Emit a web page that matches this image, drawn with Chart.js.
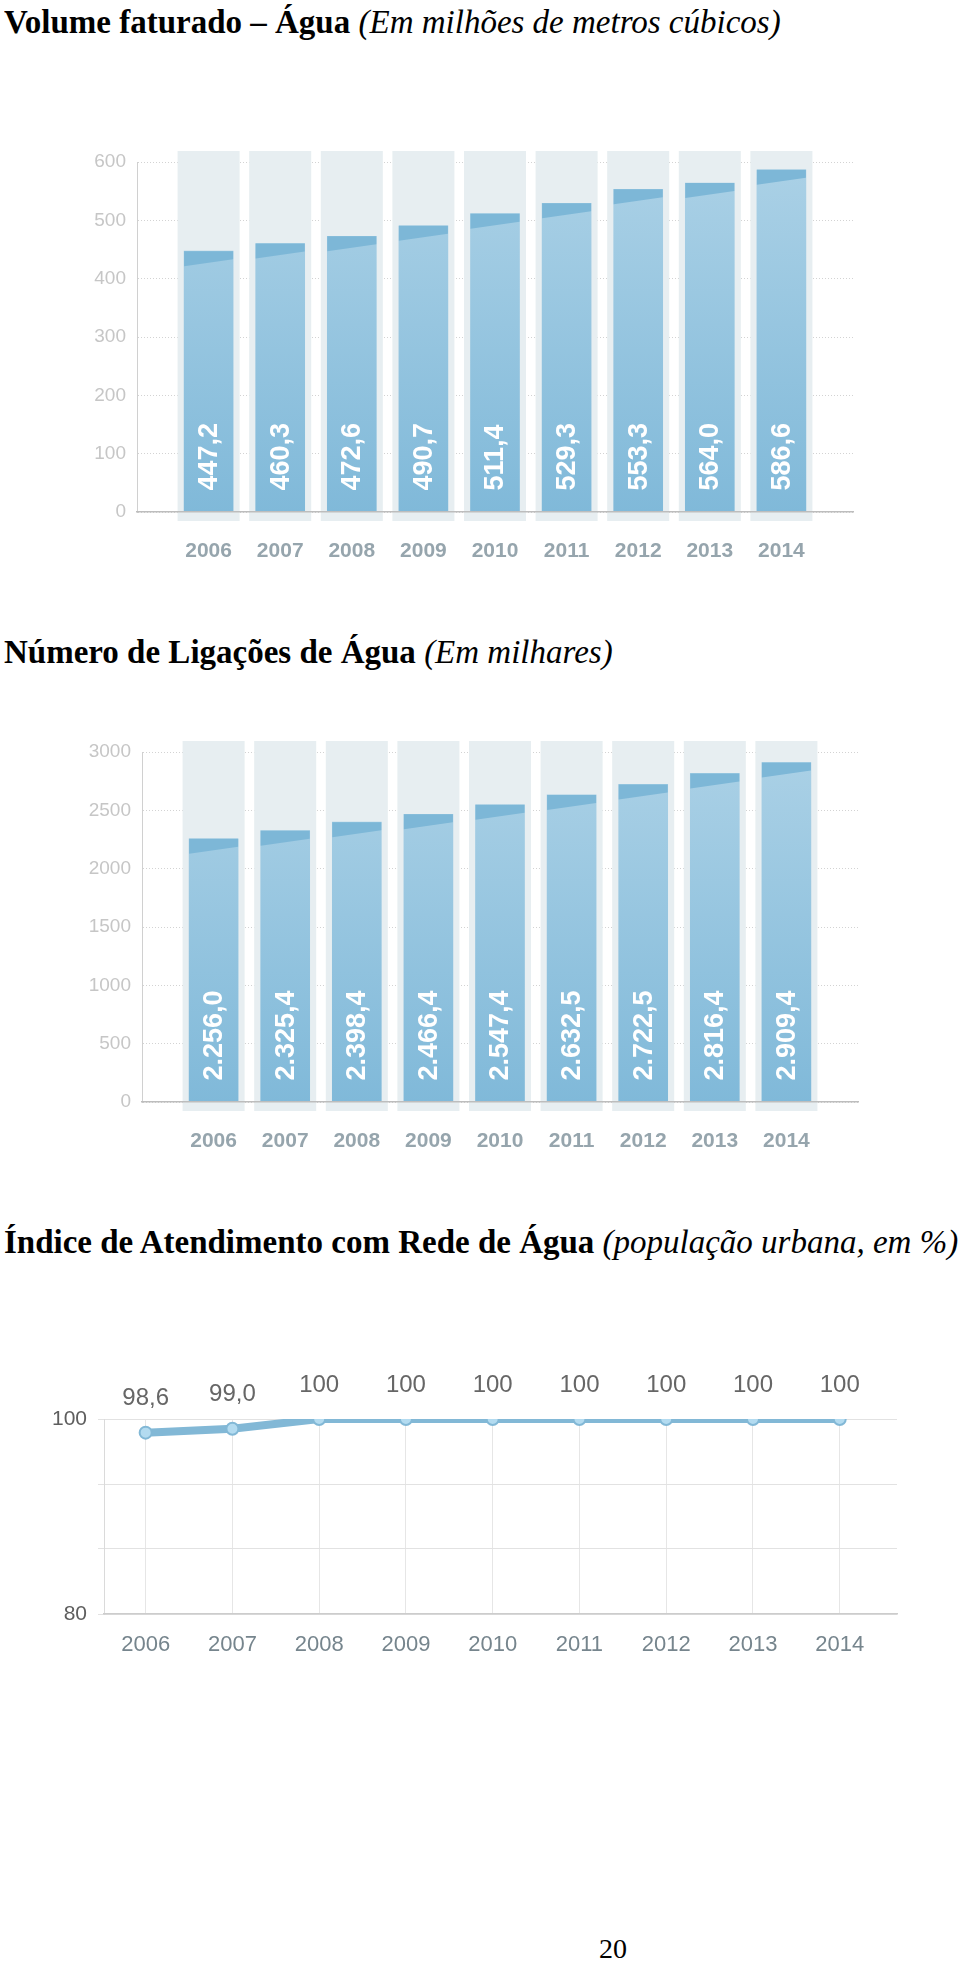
<!DOCTYPE html>
<html lang="pt-BR">
<head>
<meta charset="utf-8">
<title>Água – indicadores 2006-2014</title>
<script src="https://cdn.jsdelivr.net/npm/chart.js@4.4.1/dist/chart.umd.min.js"></script>
<style>
  html, body { margin: 0; padding: 0; background: #fff; }
  body { position: relative; width: 960px; height: 1964px; overflow: hidden; }
  .title { position: absolute; left: 4px; font-family: "Liberation Serif", "Times New Roman", serif; font-size: 33px; line-height: 34px; color: #000; white-space: nowrap; transform: scaleY(1.05); transform-origin: left bottom; }
  .title b { font-weight: bold; }
  .title i { font-style: italic; font-weight: normal; }
  canvas { position: absolute; left: 0; }
  .page { position: absolute; left: 599px; top: 1935px; font-family: "Liberation Serif", serif; font-size: 28px; line-height: 28px; }
</style>
</head>
<body>
<div class="title" style="top:5px"><b>Volume faturado – Água</b> <i>(Em milhões de metros cúbicos)</i></div>
<canvas id="volume" width="960" height="450" style="top:130px"></canvas>

<div class="title" style="top:635px"><b>Número de Ligações de Água</b> <i>(Em milhares)</i></div>
<canvas id="ligacoes" width="960" height="450" style="top:720px"></canvas>

<div class="title" style="top:1225px"><b>Índice de Atendimento com Rede de Água</b> <i>(população urbana, em %)</i></div>
<canvas id="indice" width="960" height="320" style="top:1360px"></canvas>

<div class="page">20</div>

<script>
"use strict";

// data
const years = [2006, 2007, 2008, 2009, 2010, 2011, 2012, 2013, 2014];
const volumeFaturado = [447.2, 460.3, 472.6, 490.7, 511.4, 529.3, 553.3, 564.0, 586.6];
const ligacoes = [2256.0, 2325.4, 2398.4, 2466.4, 2547.4, 2632.5, 2722.5, 2816.4, 2909.4];
const atendimento = [98.6, 99.0, 100, 100, 100, 100, 100, 100, 100];
const atendimentoTickLabels = ["80", "", "", "100"];

Chart.defaults.font.family = '"Liberation Sans", Arial, sans-serif';
Chart.defaults.animation = false;

// 2.256,0 style numbers
function fmtBR(v) {
  const parts = v.toFixed(1).split(".");
  return parts[0].replace(/\B(?=(\d{3})+(?!\d))/g, ".") + "," + parts[1];
}

// grey column behind every bar, the darker slanted cap and the rotated value
const barDecor = {
  id: "barDecor",
  beforeDatasetsDraw(chart) {
    const { ctx, chartArea } = chart;
    ctx.save();
    ctx.fillStyle = "#e7eef1";
    chart.getDatasetMeta(0).data.forEach(bar => {
      ctx.fillRect(bar.x - 31, chartArea.top - 11, 62, chartArea.bottom - chartArea.top + 20);
    });
    ctx.restore();
  },
  afterDatasetsDraw(chart) {
    const { ctx } = chart;
    const values = chart.data.datasets[0].data;
    chart.getDatasetMeta(0).data.forEach((bar, i) => {
      const half = bar.width / 2;
      ctx.save();
      ctx.fillStyle = "#7db7d7";
      ctx.beginPath();
      ctx.moveTo(bar.x - half, bar.y);
      ctx.lineTo(bar.x + half, bar.y);
      ctx.lineTo(bar.x + half, bar.y + 8);
      ctx.lineTo(bar.x - half, bar.y + 15);
      ctx.closePath();
      ctx.fill();

      ctx.translate(bar.x, bar.base - 21);
      ctx.rotate(-Math.PI / 2);
      ctx.font = 'bold 27px "Liberation Sans", Arial, sans-serif';
      ctx.fillStyle = "#ffffff";
      ctx.textAlign = "left";
      ctx.textBaseline = "middle";
      ctx.fillText(fmtBR(values[i]), 0, 1);
      ctx.restore();
    });
  }
};

function barGradient(c) {
  const { ctx, chartArea } = c.chart;
  if (!chartArea) return "#92c3de";
  const g = ctx.createLinearGradient(0, chartArea.top, 0, chartArea.bottom);
  g.addColorStop(0, "#abd1e6");
  g.addColorStop(1, "#80b9d9");
  return g;
}

function makeBarChart(id, values, yMax, yStep, yAxisWidth, rightPad) {
  return new Chart(document.getElementById(id), {
    type: "bar",
    data: {
      labels: years,
      datasets: [{
        data: values,
        backgroundColor: barGradient,
        barThickness: 49,
        borderWidth: 0
      }]
    },
    options: {
      responsive: false,
      devicePixelRatio: 1,
      layout: { padding: { left: 0, right: rightPad, top: 32, bottom: 18 } },
      plugins: { legend: { display: false }, tooltip: { enabled: false } },
      scales: {
        x: {
          type: "linear",
          offset: false,
          min: years[0] - 1,
          max: years[years.length - 1] + 1,
          afterBuildTicks: s => { s.ticks = years.map(v => ({ value: v })); },
          afterFit: s => { s.height = 50; },
          grid: { display: false },
          border: { color: "#bdbdbd", width: 1.5, z: 1 },
          ticks: {
            padding: 19,
            color: "#96a5ad",
            font: { size: 21, weight: "bold" },
            callback: v => String(v)
          }
        },
        y: {
          min: 0,
          max: yMax,
          afterFit: s => { s.width = yAxisWidth; },
          grid: { color: "#d3d3d3", drawTicks: false, lineWidth: 1 },
          border: { color: "#d0d0d0", width: 1, dash: [1, 2] },
          ticks: {
            stepSize: yStep,
            padding: 11,
            color: "#c6c6c6",
            font: { size: 19 },
            callback: v => String(v)
          }
        }
      }
    },
    plugins: [barDecor]
  });
}

makeBarChart("volume", volumeFaturado, 600, 100, 137, 107);
makeBarChart("ligacoes", ligacoes, 3000, 500, 142, 102);

// value above each point of the line chart
const pointLabels = {
  id: "pointLabels",
  afterDatasetsDraw(chart) {
    const { ctx } = chart;
    const values = chart.data.datasets[0].data;
    ctx.save();
    ctx.font = '24px "Liberation Sans", Arial, sans-serif';
    ctx.fillStyle = "#666666";
    ctx.textAlign = "center";
    ctx.textBaseline = "middle";
    chart.getDatasetMeta(0).data.forEach((pt, i) => {
      const v = values[i];
      const txt = v >= 100 ? String(v) : v.toFixed(1).replace(".", ",");
      ctx.fillText(txt, pt.x, pt.y - 34);
    });
    ctx.restore();
  }
};

new Chart(document.getElementById("indice"), {
  type: "line",
  data: {
    labels: years,
    datasets: [{
      data: atendimento,
      borderColor: "#82b8d6",
      borderWidth: 8,
      tension: 0,
      pointRadius: 6,
      pointBorderWidth: 2,
      pointBackgroundColor: "#b3dbf0",
      pointBorderColor: "#82b8d6"
    }]
  },
  options: {
    responsive: false,
    devicePixelRatio: 1,
    layout: { padding: { left: 0, right: 63, top: 59, bottom: 26 } },
    plugins: { legend: { display: false }, tooltip: { enabled: false } },
    scales: {
      x: {
        type: "linear",
        min: 2005.52,
        max: 2014.66,
        afterBuildTicks: s => { s.ticks = years.map(v => ({ value: v })); },
        afterFit: s => { s.height = 40; },
        grid: { color: "#e6e6e6", drawTicks: false },
        border: { color: "#cccccc", width: 1.5, z: 1 },
        ticks: {
          padding: 18,
          color: "#76858d",
          font: { size: 22 },
          callback: v => String(v)
        }
      },
      y: {
        min: 80,
        max: 100,
        afterBuildTicks: s => {
          s.ticks = atendimentoTickLabels.map((t, i) => ({ value: 80 + i * 20 / 3 }));
        },
        afterFit: s => { s.width = 104; },
        grid: { color: "#e2e2e2", tickLength: 6 },
        border: { color: "#dadada", width: 1 },
        ticks: {
          padding: 11,
          color: "#5e5e5e",
          font: { size: 21 },
          callback: (v, i) => atendimentoTickLabels[i]
        }
      }
    }
  },
  plugins: [pointLabels]
});
</script>
</body>
</html>
